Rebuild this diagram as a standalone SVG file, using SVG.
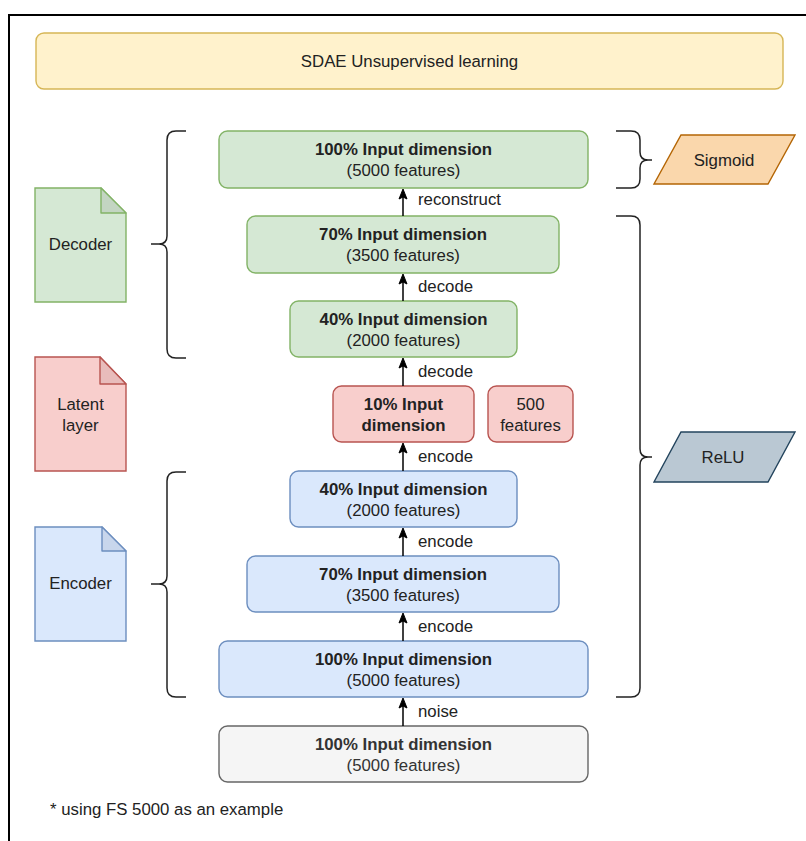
<svg xmlns="http://www.w3.org/2000/svg" width="806" height="841" viewBox="0 0 806 841">
<style>
text{font-family:"Liberation Sans",Arial,sans-serif;font-size:16.8px;fill:#222;}
.b{font-weight:bold;}
.c{text-anchor:middle;}
.grn{fill:#d5e8d4;stroke:#82b366;stroke-width:1.4;}
.red{fill:#f8cecc;stroke:#b85450;stroke-width:1.4;}
.blu{fill:#dae8fc;stroke:#6c8ebf;stroke-width:1.4;}
.gry{fill:#f5f5f5;stroke:#666666;stroke-width:1.4;}
.brace{fill:none;stroke:#222;stroke-width:1.5;}
.edge{stroke:#000;stroke-width:1.5;fill:none;}
.head{fill:#000;stroke:#000;stroke-width:1;}
</style>
<rect x="0" y="0" width="806" height="841" fill="#fff"/>
<rect x="9" y="15" width="850" height="850" fill="none" stroke="#000" stroke-width="2"/>

<g id="title">
<rect x="36" y="33" width="747" height="56" rx="8" fill="#fff2cc" stroke="#d6b656" stroke-width="1.4"/>
<text class="c" x="409.5" y="67">SDAE Unsupervised learning</text>
</g>

<g id="doc-decoder">
<path class="grn" d="M35,188 H101 L126,213 V302 H35 Z"/>
<path d="M101,188 V213 H126 Z" fill="#c3d5c2" stroke="#82b366" stroke-width="1.4" stroke-linejoin="round"/>
<text class="c" x="80.5" y="250">Decoder</text>
</g>
<g id="doc-latent">
<path class="red" d="M35,357 H100 L126,384 V471 H35 Z"/>
<path d="M100,357 V384 H126 Z" fill="#e8bcbb" stroke="#b85450" stroke-width="1.4" stroke-linejoin="round"/>
<text class="c" x="80.5" y="410">Latent</text>
<text class="c" x="80.5" y="431">layer</text>
</g>
<g id="doc-encoder">
<path class="blu" d="M35,527 H102 L126,551 V641 H35 Z"/>
<path d="M102,527 V551 H126 Z" fill="#c8d6ec" stroke="#6c8ebf" stroke-width="1.4" stroke-linejoin="round"/>
<text class="c" x="80.5" y="589">Encoder</text>
</g>

<g id="braces">
<path class="brace" d="M186,131 H176 Q167,131 167,140 V236 Q167,244 159,244 H151 M159,244 Q167,244 167,252 V349 Q167,358 176,358 H186"/>
<path class="brace" d="M186,472 H176 Q167,472 167,481 V576 Q167,584 159,584 H151 M159,584 Q167,584 167,592 V688 Q167,697 176,697 H186"/>
<path class="brace" d="M616,131 H631 Q640,131 640,140 V152 Q640,160 648,160 H652 M648,160 Q640,160 640,168 V179 Q640,188 631,188 H616"/>
<path class="brace" d="M616,216 H631 Q640,216 640,225 V449 Q640,457 648,457 H652 M648,457 Q640,457 640,465 V688 Q640,697 631,697 H616"/>
</g>

<g id="sigmoid">
<polygon points="681,135 795,135 768,184 654,184" fill="#fad7ac" stroke="#b46504" stroke-width="1.4"/>
<text class="c" x="724" y="166">Sigmoid</text>
</g>
<g id="relu">
<polygon points="681,432 795,432 768,482 654,482" fill="#bac8d3" stroke="#23445d" stroke-width="1.4"/>
<text class="c" x="723" y="463">ReLU</text>
</g>

<g id="dec100">
<rect class="grn" x="219" y="131" width="369" height="57" rx="8.5"/>
<text class="c b" x="403.5" y="155">100% Input dimension</text>
<text class="c" x="403.5" y="176">(5000 features)</text>
</g>
<g id="dec70">
<rect class="grn" x="247" y="216" width="312" height="57" rx="8.5"/>
<text class="c b" x="403" y="240">70% Input dimension</text>
<text class="c" x="403" y="261">(3500 features)</text>
</g>
<g id="dec40">
<rect class="grn" x="290" y="301" width="227" height="56" rx="8.5"/>
<text class="c b" x="403.5" y="325">40% Input dimension</text>
<text class="c" x="403.5" y="346">(2000 features)</text>
</g>
<g id="latent">
<rect class="red" x="333" y="386" width="141" height="56" rx="8.5"/>
<text class="c b" x="403.5" y="410">10% Input</text>
<text class="c b" x="403.5" y="431">dimension</text>
</g>
<g id="latent-features">
<rect class="red" x="488" y="386" width="85" height="56" rx="8.5"/>
<text class="c" x="530.5" y="410">500</text>
<text class="c" x="530.5" y="431">features</text>
</g>
<g id="enc40">
<rect class="blu" x="290" y="471" width="227" height="56" rx="8.5"/>
<text class="c b" x="403.5" y="495">40% Input dimension</text>
<text class="c" x="403.5" y="516">(2000 features)</text>
</g>
<g id="enc70">
<rect class="blu" x="247" y="556" width="312" height="56" rx="8.5"/>
<text class="c b" x="403" y="580">70% Input dimension</text>
<text class="c" x="403" y="601">(3500 features)</text>
</g>
<g id="enc100">
<rect class="blu" x="219" y="641" width="369" height="56" rx="8.5"/>
<text class="c b" x="403.5" y="665">100% Input dimension</text>
<text class="c" x="403.5" y="686">(5000 features)</text>
</g>
<g id="input">
<rect class="gry" x="219" y="726" width="369" height="56" rx="8.5"/>
<text class="c b" x="403.5" y="750" style="fill:#333">100% Input dimension</text>
<text class="c" x="403.5" y="771" style="fill:#333">(5000 features)</text>
</g>

<g id="connectors">
<line class="edge" x1="403" y1="216" x2="403" y2="197"/>
<polygon class="head" points="403,189 407,199 403,197 399,199"/>
<text x="418" y="205">reconstruct</text>
<line class="edge" x1="403" y1="301" x2="403" y2="282"/>
<polygon class="head" points="403,274 407,284 403,282 399,284"/>
<text x="418" y="292">decode</text>
<line class="edge" x1="403" y1="386" x2="403" y2="366"/>
<polygon class="head" points="403,358 407,368 403,366 399,368"/>
<text x="418" y="377">decode</text>
<line class="edge" x1="403" y1="471" x2="403" y2="451"/>
<polygon class="head" points="403,443 407,453 403,451 399,453"/>
<text x="418" y="462">encode</text>
<line class="edge" x1="403" y1="556" x2="403" y2="536"/>
<polygon class="head" points="403,528 407,538 403,536 399,538"/>
<text x="418" y="547">encode</text>
<line class="edge" x1="403" y1="641" x2="403" y2="621"/>
<polygon class="head" points="403,613 407,623 403,621 399,623"/>
<text x="418" y="632">encode</text>
<line class="edge" x1="403" y1="726" x2="403" y2="706"/>
<polygon class="head" points="403,698 407,708 403,706 399,708"/>
<text x="418" y="717">noise</text>
</g>

<text x="50" y="815">* using FS 5000 as an example</text>
</svg>
